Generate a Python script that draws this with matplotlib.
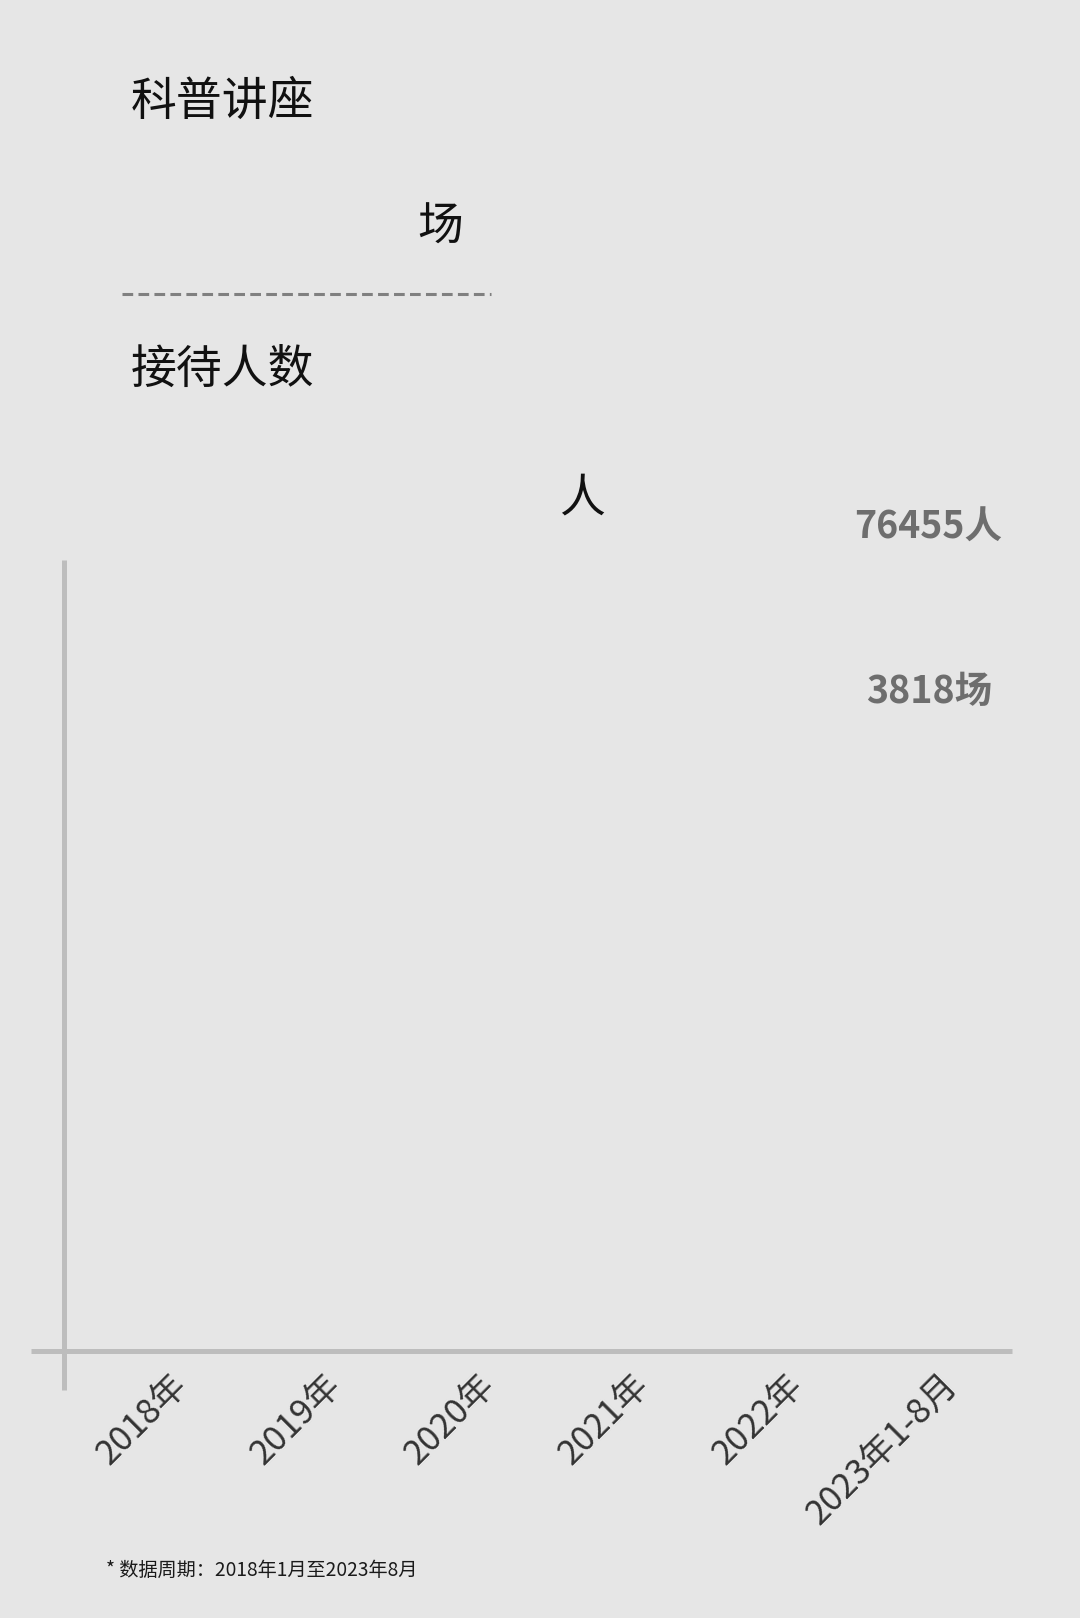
import matplotlib
matplotlib.use("Agg")
import matplotlib.pyplot as plt

plt.rcParams['font.family'] = ['Noto Sans CJK SC', 'DejaVu Sans']
plt.rcParams['lines.scale_dashes'] = False

# ---- data ----
categories = ["2018年", "2019年", "2020年", "2021年", "2022年", "2023年1-8月"]
total_visitors = 76455
total_lectures = 3818
title_lecture = "科普讲座"
title_visitor = "接待人数"
unit_lecture = "场"
unit_visitor = "人"
footnote = "* 数据周期：2018年1月至2023年8月"

W, H = 1080, 1618
BG = "#e6e6e6"
fig = plt.figure(figsize=(W / 100, H / 100), dpi=100, facecolor=BG)


def fx(px):
    return px / W


def fy(py):
    return 1 - py / H


# headline texts
fig.text(fx(222), fy(102), title_lecture, fontsize=33, color="#111111", ha="center", va="center")
fig.text(fx(440), fy(227), unit_lecture, fontsize=33, color="#111111", ha="center", va="center")
fig.text(fx(222), fy(370), title_visitor, fontsize=33, color="#111111", ha="center", va="center")
fig.text(fx(582), fy(498), unit_visitor, fontsize=33, color="#111111", ha="center", va="center")

# dashed separator
sep = plt.Line2D([fx(122), fx(491)], [fy(294), fy(294)], transform=fig.transFigure,
                 color="#808080", linewidth=2.2, linestyle=(0, (7.7, 3.8)),
                 dash_capstyle="butt")
fig.add_artist(sep)

# main axes
left, right, top, bottom = 63.5, 1012, 560, 1350.5
ax = fig.add_axes([fx(left), fy(bottom), fx(right - left), (bottom - top) / H])
ax.set_facecolor("none")
for s in ax.spines.values():
    s.set_visible(False)

first_tick_px, step_px = 182, 154
ax.set_xlim((left - first_tick_px) / step_px, (right - first_tick_px) / step_px)
ax.set_ylim(0, 1)
ax.set_yticks([])

x = list(range(len(categories)))
ax.set_xticks(x)
ax.set_xticklabels(categories, rotation=45, ha="right", va="center", rotation_mode="anchor",
                   fontsize=25, color="#333333")
ax.tick_params(axis="x", length=0, pad=21)

# axis lines
w_ax = right - left
h_ax = bottom - top
ax.plot([0, 0], [-(1390 - bottom) / h_ax, 1], transform=ax.transAxes, clip_on=False,
        color="#bdbdbd", linewidth=3.6, solid_capstyle="butt")
ax.plot([(31 - left) / w_ax, 1], [0, 0], transform=ax.transAxes, clip_on=False,
        color="#bdbdbd", linewidth=3.6, solid_capstyle="butt")

# totals
fig.text(fx(928), fy(527), f"{total_visitors}{unit_visitor}", fontsize=27, color="#6e6e6e",
         ha="center", va="center", fontweight="semibold")
fig.text(fx(929), fy(691), f"{total_lectures}{unit_lecture}", fontsize=27, color="#6e6e6e",
         ha="center", va="center", fontweight="semibold")

# footnote
fig.text(fx(106), fy(1570), footnote, fontsize=13.8, color="#1a1a1a", ha="left", va="center")

fig.savefig("out.png", dpi=100, facecolor=BG)
